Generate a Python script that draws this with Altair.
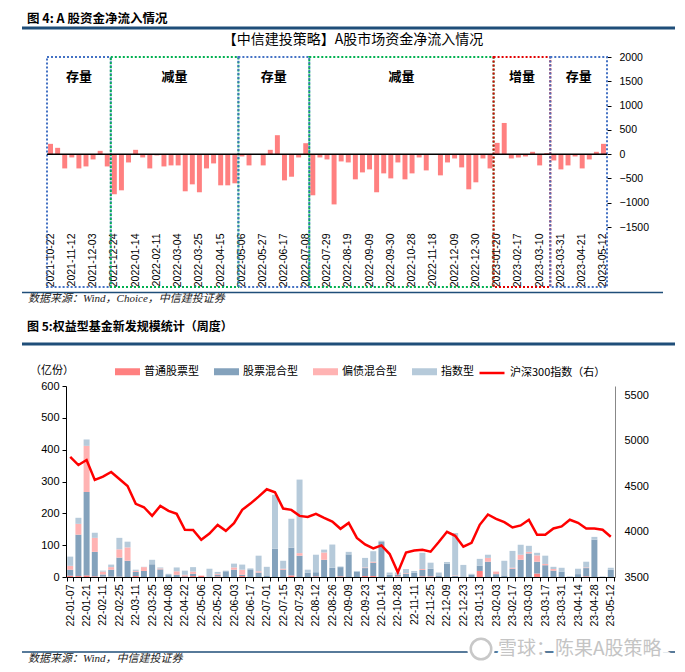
import json
import altair as alt
import pandas as pd

CJK = "Noto Sans CJK SC"
NUM = "Liberation Sans"

# ---------------- Figure 4 data ----------------
top_dates = [
    "2021-10-22", "2021-10-29", "2021-11-05", "2021-11-12", "2021-11-19", "2021-11-26",
    "2021-12-03", "2021-12-10", "2021-12-17", "2021-12-24", "2021-12-31", "2022-01-07",
    "2022-01-14", "2022-01-21", "2022-01-28", "2022-02-11", "2022-02-18", "2022-02-25",
    "2022-03-04", "2022-03-11", "2022-03-18", "2022-03-25", "2022-04-01", "2022-04-08",
    "2022-04-15", "2022-04-22", "2022-04-29", "2022-05-06", "2022-05-13", "2022-05-20",
    "2022-05-27", "2022-06-03", "2022-06-10", "2022-06-17", "2022-06-24", "2022-07-01",
    "2022-07-08", "2022-07-15", "2022-07-22", "2022-07-29", "2022-08-05", "2022-08-12",
    "2022-08-19", "2022-08-26", "2022-09-02", "2022-09-09", "2022-09-16", "2022-09-23",
    "2022-09-30", "2022-10-14", "2022-10-21", "2022-10-28", "2022-11-04", "2022-11-11",
    "2022-11-18", "2022-11-25", "2022-12-02", "2022-12-09", "2022-12-16", "2022-12-23",
    "2022-12-30", "2023-01-06", "2023-01-13", "2023-01-20", "2023-02-03", "2023-02-10",
    "2023-02-17", "2023-02-24", "2023-03-03", "2023-03-10", "2023-03-17", "2023-03-24",
    "2023-03-31", "2023-04-07", "2023-04-14", "2023-04-21", "2023-04-28", "2023-05-05",
    "2023-05-12"]
top_flow = [
    212, 130, -294, -68, -294, -253, -109, 68, -253,
    -826, -745, -171, 89, -68, -294, -27, -253, -232, -232, -765, -622, -785, -294, -191,
    -642, -642, -601,
    -48, -232, -5, -232, 89, 390, -540, -465, -68, 225,
    -847, -68, -109, -1035, -150, -171, -519, -376, -314, -785, -396, -499, -171, -519,
    -396, -68, -335, -10, -437, -171, -89, -273, -724, -580, -89, -294,
    232, 642, -89, -68, -48, 48, -232, 20,
    -130, -314, -232, -48, -294, -109, 48, 212]
region_names = ["存量", "减量", "存量", "减量", "增量", "存量"]
region_first = ["2021-10-22", "2021-12-24", "2022-05-06", "2022-07-15", "2023-01-20", "2023-03-24"]
region_last = ["2021-12-17", "2022-04-29", "2022-07-08", "2023-01-13", "2023-03-17", "2023-05-12"]
flow_ticks = [-1500, -1000, -500, 0, 500, 1000, 1500, 2000]

# ---------------- Figure 5 data ----------------
fund_weeks = [
    "22-01-07", "22-01-14", "22-01-21", "22-01-28", "22-02-11", "22-02-18", "22-02-25",
    "22-03-04", "22-03-11", "22-03-18", "22-03-25", "22-04-01", "22-04-08", "22-04-15",
    "22-04-22", "22-04-29", "22-05-06", "22-05-13", "22-05-20", "22-05-27", "22-06-03",
    "22-06-10", "22-06-17", "22-06-24", "22-07-01", "22-07-08", "22-07-15", "22-07-22",
    "22-07-29", "22-08-05", "22-08-12", "22-08-19", "22-08-26", "22-09-02", "22-09-09",
    "22-09-16", "22-09-23", "22-09-30", "22-10-14", "22-10-21", "22-10-28", "22-11-04",
    "22-11-11", "22-11-18", "22-11-25", "22-12-02", "22-12-09", "22-12-16", "22-12-23",
    "22-12-30", "23-01-13", "23-01-20", "23-02-03", "23-02-10", "23-02-17", "23-02-24",
    "23-03-03", "23-03-10", "23-03-17", "23-03-24", "23-03-31", "23-04-07", "23-04-14",
    "23-04-21", "23-04-28", "23-05-05", "23-05-12"]
ordinary_stock = [4, 3, 5, 2, 1, 1, 1, 0, 3, 0, 0, 0, 0, 0, 2, 3, 4, 0, 2, 0, 0, 3, 0, 0, 0,
                  0, 0, 5, 0, 0, 2, 0, 0, 2, 0, 0, 3, 3, 0, 0, 2, 0, 0, 2, 2, 0, 0, 0, 0, 0,
                  19, 0, 0, 0, 0, 0, 0, 11, 0, 0, 0, 0, 0, 2, 0, 0, 0]
stock_hybrid = [19, 130, 262, 77, 7, 22, 60, 51, 13, 19, 40, 24, 6, 7, 2, 7, 0, 0, 5, 18, 23,
                4, 24, 14, 5, 89, 23, 87, 67, 13, 13, 54, 29, 29, 71, 17, 25, 42, 110, 7, 5,
                10, 13, 20, 24, 5, 42, 3, 2, 7, 16, 48, 9, 5, 26, 54, 74, 37, 37, 20, 17, 1,
                9, 26, 117, 1, 23]
bond_hybrid = [12, 34, 145, 44, 9, 8, 26, 42, 3, 12, 0, 3, 0, 11, 3, 7, 0, 0, 3, 0, 7, 16, 0,
               4, 0, 0, 3, 0, 8, 0, 0, 23, 0, 0, 0, 0, 2, 3, 0, 0, 0, 2, 0, 3, 0, 0, 0, 2, 0,
               0, 0, 12, 8, 0, 3, 16, 5, 20, 4, 5, 0, 0, 0, 2, 0, 0, 0]
index_fund = [29, 19, 20, 16, 3, 8, 36, 18, 4, 1, 14, 3, 4, 12, 13, 14, 0, 26, 6, 2, 12, 16,
              3, 49, 27, 169, 25, 91, 231, 10, 55, 9, 73, 2, 8, 2, 30, 33, 4, 7, 7, 13, 6,
              51, 19, 9, 5, 133, 36, 3, 22, 10, 0, 46, 53, 31, 19, 8, 26, 7, 12, 1, 17, 18,
              9, 0, 6]
hs300 = [4822, 4731, 4786, 4567, 4603, 4655, 4578, 4501, 4304, 4267,
         4172, 4282, 4227, 4194, 4019, 4018, 3909, 3978, 4073, 4008,
         4092, 4238, 4307, 4384, 4465, 4432, 4252, 4238, 4172, 4161,
         4194, 4150, 4110, 4030, 4095, 3930, 3858, 3814, 3847, 3752,
         3551, 3770, 3792, 3800, 3778, 3884, 3997, 3953, 3833, 3876,
         4074, 4187, 4140, 4103, 4045, 4067, 4129, 3964, 3964, 4034,
         4056, 4129, 4096, 4034, 4034, 4019, 3942]
series_names = ["普通股票型", "股票混合型", "偏债混合型", "指数型"]
line_name = "沪深300指数（右）"
left_ticks = [0, 100, 200, 300, 400, 500, 600]
right_ticks = [3500, 4000, 4500, 5000, 5500]

# ---------------- styles / layout ----------------
series_colors = ["#FF8080", "#84A2BC", "#FFB3B3", "#B6CADA"]
region_kind_colors = {"存量": "#4472C4", "减量": "#00B050", "增量": "#E00000"}
NAVY = "#1F4E79"
W, H = 669, 656
TOP_X = [39, 599]

# ================= Figure 4 =================
df_top = pd.DataFrame({"date": top_dates, "flow": top_flow})
df_reg = pd.DataFrame({
    "name": region_names,
    "first": [top_dates.index(d) for d in region_first],
    "last": [top_dates.index(d) for d in region_last],
})
one = pd.DataFrame({"k": [0]})

xs_band = alt.Scale(domain=top_dates, range=TOP_X, paddingInner=0.3, paddingOuter=0.15)
xs_idx = alt.Scale(domain=[-0.5, len(top_dates) - 0.5], range=TOP_X, nice=False, zero=False)
ys_top = alt.Scale(domain=[-1500, 2000], range=[219, 49], nice=False, zero=False)
shown_dates = top_dates[::3]
date_expr = ("indexof(" + json.dumps(shown_dates) + ", datum.value) >= 0 ? datum.value : ''")

bars1 = alt.Chart(df_top).mark_bar(color="#FF8080").encode(
    x=alt.X("date:N", scale=xs_band, sort=top_dates, title=None,
            axis=alt.Axis(orient="bottom", offset=219 - H, labelExpr=date_expr,
                          labelAngle=270, labelFont=NUM, labelFontSize=10.5, labelColor="#000",
                          labelOverlap=False, domain=False, ticks=False,
                          labelPadding=6, grid=False)),
    y=alt.Y("flow:Q", scale=ys_top, title=None,
            axis=alt.Axis(orient="right", offset=599 - W, values=flow_ticks, format="d",
                          labelFont=NUM, labelFontSize=10.5, labelColor="#000",
                          labelOverlap=False, domain=False, ticks=True, tickSize=4,
                          tickColor="#000", labelPadding=8, grid=False)),
    y2=alt.datum(0),
)
zero1 = alt.Chart(one).mark_rule(color="#000", strokeWidth=1.5).encode(
    x=alt.XDatum(-0.5, scale=xs_idx, axis=None), x2=alt.datum(len(top_dates) - 0.5),
    y=alt.datum(0))
boxes = alt.Chart(df_reg).transform_calculate(
    xa="datum.first - 0.5", xb="datum.last + 0.5"
).mark_rect(fill="transparent", strokeDash=[2, 2], strokeWidth=2).encode(
    x=alt.X("xa:Q", scale=xs_idx, axis=None), x2="xb:Q",
    y=alt.datum(2000), y2=alt.value(279),
    stroke=alt.Stroke("name:N", legend=None,
                      scale=alt.Scale(domain=list(region_kind_colors.keys()),
                                      range=list(region_kind_colors.values()))),
)
box_labels = alt.Chart(df_reg).transform_calculate(
    xa="(datum.first + datum.last) / 2"
).mark_text(font=CJK, fontSize=13, fontWeight="bold", color="#000").encode(
    x=alt.X("xa:Q", scale=xs_idx, axis=None), y=alt.value(69), text="name:N")

top_layer = alt.layer(
    bars1, alt.layer(boxes, zero1, box_labels)
).resolve_scale(x="independent")

title1 = alt.Chart(one).mark_text(text="【中信建投策略】A股市场资金净流入情况", font=CJK,
                                  fontSize=14, color="#000").encode(
    x=alt.value(345), y=alt.value(32))
head1 = alt.Chart(one).mark_text(text="图 4: A 股资金净流入情况", font=CJK, fontSize=12.5,
                                 fontWeight="bold", align="left", color="#000").encode(
    x=alt.value(19), y=alt.value(11))
headline1 = alt.Chart(one).mark_rule(color=NAVY, strokeWidth=3).encode(
    x=alt.value(14), x2=alt.value(667), y=alt.value(20))
footline1 = alt.Chart(one).mark_rule(color=NAVY, strokeWidth=1.5).encode(
    x=alt.value(14), x2=alt.value(655), y=alt.value(284.5))
source1 = alt.Chart(one).mark_text(text="数据来源：Wind，Choice，中信建投证券",
                                   font="Liberation Serif, Noto Sans CJK SC", fontStyle="italic",
                                   fontSize=11, align="left", color="#222").encode(
    x=alt.value(20), y=alt.value(291))

# ================= Figure 5 =================
rows = []
for s_i, (name, vals) in enumerate(zip(series_names,
                                       [ordinary_stock, stock_hybrid, bond_hybrid, index_fund])):
    for w, v in zip(fund_weeks, vals):
        rows.append({"week": w, "series": name, "value": v, "ord": s_i})
df_b = pd.DataFrame(rows)
df_hs = pd.DataFrame({"week": fund_weeks, "hs300": hs300, "lbl": line_name})

xs_b = alt.Scale(domain=fund_weeks, range=[58, 607], paddingInner=0.27, paddingOuter=0.15)
ys_l = alt.Scale(domain=[0, 600], range=[569, 378], nice=False)
ys_r = alt.Scale(domain=[3500, 5600], range=[569, 378], nice=False, zero=False)
shown_weeks = fund_weeks[::2]
week_expr = ("indexof(" + json.dumps(shown_weeks) + ", datum.value) >= 0 ? datum.value : ''")

bars2 = alt.Chart(df_b).mark_bar().encode(
    x=alt.X("week:N", scale=xs_b, sort=fund_weeks, title=None,
            axis=alt.Axis(orient="bottom", offset=569 - H, labelExpr=week_expr,
                          labelAngle=270, labelFont=NUM, labelFontSize=10.5, labelColor="#000",
                          labelOverlap=False, domainColor="#000", tickColor="#000",
                          tickSize=4, tickBand="extent", labelPadding=3, grid=False)),
    y=alt.Y("value:Q", stack="zero", title=None, scale=ys_l,
            axis=alt.Axis(orient="left", offset=-58, values=left_ticks, labelFont=NUM,
                          labelFontSize=11, labelColor="#000", labelOverlap=False,
                          domainColor="#000", tickColor="#000", tickSize=4,
                          labelPadding=3, grid=False)),
    color=alt.Color("series:N", scale=alt.Scale(domain=series_names, range=series_colors),
                    legend=alt.Legend(orient="none", legendX=107, legendY=351,
                                      direction="horizontal", title=None,
                                      symbolType="M-1,-0.28H1V0.28H-1Z", symbolSize=625,
                                      symbolStrokeWidth=0, symbolOpacity=1,
                                      labelFont=CJK, labelFontSize=11, labelColor="#000",
                                      labelOffset=4, columnPadding=15, padding=0)),
    order=alt.Order("ord:Q", sort="ascending"),
)
line2 = alt.Chart(df_hs).mark_line(strokeWidth=2.5).encode(
    x=alt.X("week:N", scale=xs_b, sort=fund_weeks, title=None),
    y=alt.Y("hs300:Q", title=None, scale=ys_r,
            axis=alt.Axis(orient="right", offset=607 - W, values=right_ticks, format="d",
                          labelFont=NUM, labelFontSize=11, labelColor="#000",
                          labelOverlap=False, domainColor="#888", ticks=False,
                          labelPadding=9, grid=False)),
    color=alt.Color("lbl:N", scale=alt.Scale(domain=[line_name], range=["#FF0000"]),
                    legend=alt.Legend(orient="none", legendX=470, legendY=351,
                                      direction="horizontal", title=None,
                                      symbolType="stroke", symbolSize=625,
                                      symbolStrokeWidth=2.5, labelFont=CJK,
                                      labelFontSize=11, labelColor="#000",
                                      labelOffset=4, padding=0)),
)
bottom_layer = alt.layer(bars2, line2).resolve_scale(y="independent", color="independent")

unit = alt.Chart(one).mark_text(text="（亿份）", font=CJK, fontSize=11, align="left",
                                color="#000").encode(x=alt.value(22), y=alt.value(363))
head2 = alt.Chart(one).mark_text(text="图 5:权益型基金新发规模统计（周度）", font=CJK,
                                 fontSize=12, fontWeight="bold", align="left",
                                 color="#000").encode(x=alt.value(19), y=alt.value(319))
headline2 = alt.Chart(one).mark_rule(color=NAVY, strokeWidth=3).encode(
    x=alt.value(14), x2=alt.value(667), y=alt.value(336))
footline2 = alt.Chart(one).mark_rule(color=NAVY, strokeWidth=1.5).encode(
    x=alt.value(14), x2=alt.value(667), y=alt.value(644))
source2 = alt.Chart(one).mark_text(text="数据来源：Wind，中信建投证券",
                                   font="Liberation Serif, Noto Sans CJK SC", fontStyle="italic",
                                   fontSize=11, align="left", color="#222").encode(
    x=alt.value(20), y=alt.value(651))
wm_halo = alt.Chart(one).mark_text(text="雪球：陈果A股策略", font=CJK, fontSize=19,
                                   align="left", color="#fff", stroke="#fff",
                                   strokeWidth=6).encode(x=alt.value(490), y=alt.value(641))
wm = alt.Chart(one).mark_text(text="雪球：陈果A股策略", font=CJK, fontSize=19, align="left",
                              color="#C4C4C4").encode(x=alt.value(490), y=alt.value(641))
wm_disk = alt.Chart(one).mark_point(shape="circle", filled=True, size=750, opacity=1,
                                    color="#fff").encode(x=alt.value(473), y=alt.value(641))
wm_logo = alt.Chart(one).mark_point(shape="circle", filled=False, size=420, strokeWidth=2.5,
                                    opacity=1, color="#C8C8C8").encode(
    x=alt.value(473), y=alt.value(641))

chart = alt.layer(
    top_layer, bottom_layer,
    title1, head1, headline1, footline1, source1,
    unit, head2, headline2, footline2, source2,
    wm_halo, wm_disk, wm, wm_logo,
).resolve_scale(
    x="independent", y="independent", color="independent", stroke="independent"
).properties(
    width=W, height=H, padding=0, autosize=alt.AutoSizeParams(type="none")
).configure_view(strokeWidth=0).configure_axis(grid=False, labelOverlap=False)

chart.save("out.html", embed_options={"renderer": "svg", "actions": False})
